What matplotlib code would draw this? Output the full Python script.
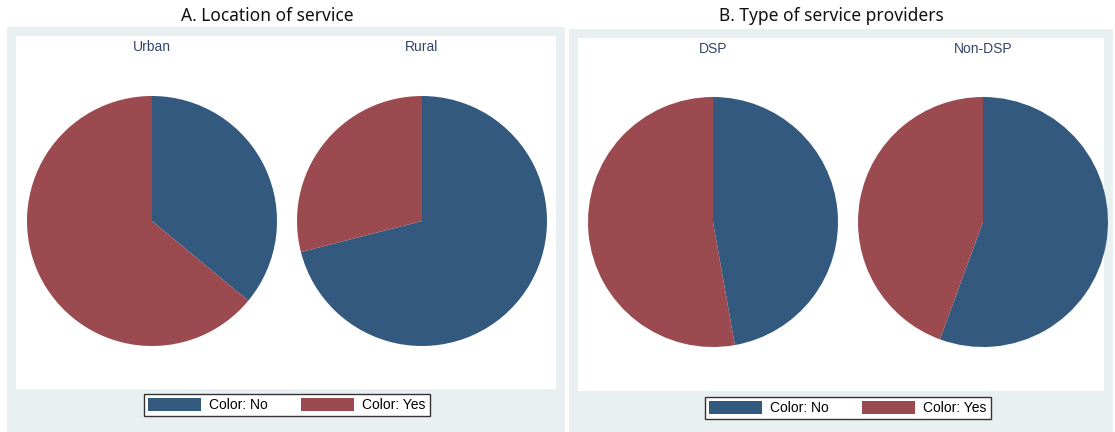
import matplotlib

matplotlib.use("Agg")

import matplotlib.pyplot as plt
from matplotlib.patches import Patch, Rectangle

W, H = 1115, 432
DPI = 100

# data (shares, %)
panel_titles = ["A. Location of service", "B. Type of service providers"]
group_labels = [["Urban", "Rural"], ["DSP", "Non-DSP"]]
color_no = [[36.0, 71.0], [47.2, 55.6]]
color_yes = [[64.0, 29.0], [52.8, 44.4]]
legend_labels = ["Color: No", "Color: Yes"]

BLUE = "#335a7e"
RED = "#9b4a50"
BG = "#e8f0f2"
SUB_COLOR = "#34456a"

# pixel layout per panel: (bg box, white box, pie centres, title x, legend centre)
PANELS = [
    dict(bg=(7, 27, 565, 432), inner=(16, 36, 556, 389),
         centres=[(152, 221), (422, 221)], title_x=267, legend=(287, 405)),
    dict(bg=(569, 29, 1113, 432), inner=(578, 38, 1104, 391),
         centres=[(713, 222), (983, 222)], title_x=831, legend=(848, 408)),
]
RADIUS = 125


def fx(px):
    return px / W


def fy(py):
    return 1 - py / H


def rect(fig, box, color, z):
    x0, y0, x1, y1 = box
    fig.patches.append(
        Rectangle((fx(x0), fy(y1)), fx(x1 - x0), (y1 - y0) / H,
                  transform=fig.transFigure, facecolor=color,
                  edgecolor="none", zorder=z)
    )


fig = plt.figure(figsize=(W / DPI, H / DPI), dpi=DPI, facecolor="white")

for p, layout in enumerate(PANELS):
    rect(fig, layout["bg"], BG, -10)
    rect(fig, layout["inner"], "white", -9)

    fig.text(fx(layout["title_x"]), fy(16), panel_titles[p],
             family=["Noto Sans", "DejaVu Sans"], fontsize=12.5,
             ha="center", va="center", color="#111111")

    for g, (cx, cy) in enumerate(layout["centres"]):
        ax = fig.add_axes([fx(cx - RADIUS), fy(cy + RADIUS),
                           fx(2 * RADIUS), 2 * RADIUS / H], zorder=1)
        ax.pie([color_no[p][g], color_yes[p][g]], colors=[BLUE, RED],
               startangle=90, counterclock=False, radius=1.0,
               wedgeprops=dict(linewidth=0))
        ax.set_xlim(-1, 1)
        ax.set_ylim(-1, 1)
        ax.set_aspect("equal")
        ax.axis("off")

        fig.text(fx(cx), fy(layout["inner"][1] + 11), group_labels[p][g],
                 family="Liberation Sans", fontsize=10, color=SUB_COLOR,
                 ha="center", va="center")

    handles = [Patch(facecolor=BLUE, edgecolor="none"),
               Patch(facecolor=RED, edgecolor="none")]
    lx, ly = layout["legend"]
    leg = fig.legend(handles, legend_labels, loc="center",
                     bbox_to_anchor=(fx(lx), fy(ly)), ncol=2,
                     prop=dict(family="Liberation Sans", size=10),
                     frameon=True, fancybox=False, edgecolor="#333333",
                     facecolor="white", framealpha=1,
                     handlelength=3.8, handleheight=1.05,
                     handletextpad=0.6, columnspacing=2.4,
                     borderpad=0.3, borderaxespad=0)
    leg.get_frame().set_linewidth(1.0)

fig.savefig("out.png", dpi=DPI, facecolor="white")
